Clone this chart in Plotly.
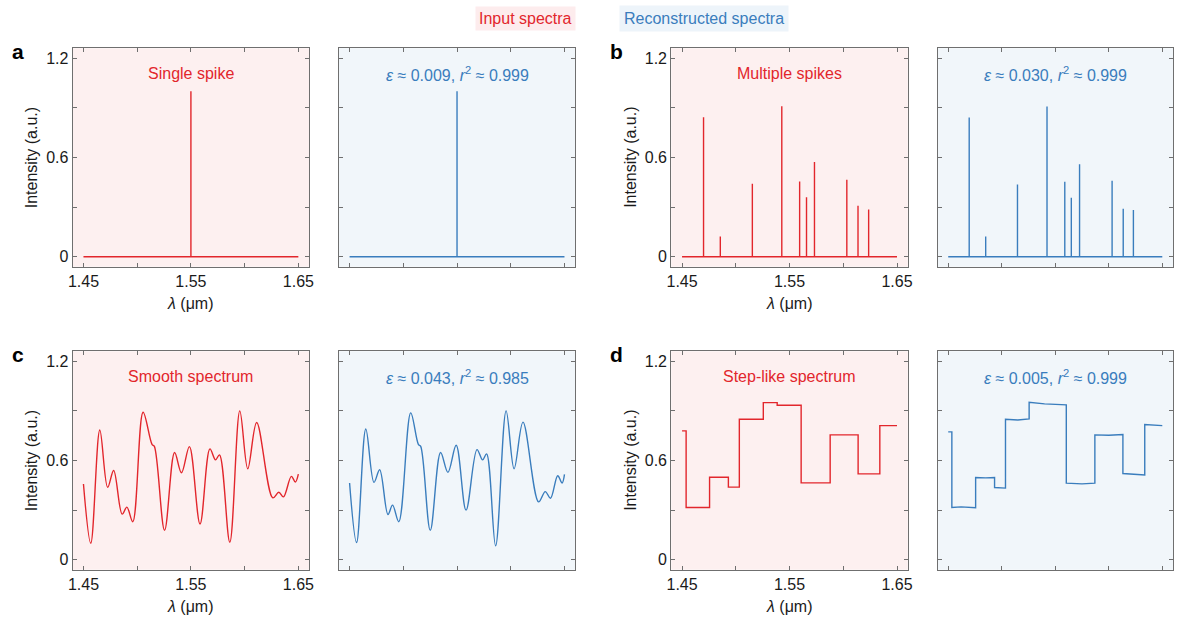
import plotly.graph_objects as go

# ---------------------------------------------------------------- styling
FONT = "Liberation Sans, Arial, sans-serif"
RED = "#e2262c"
BLUE = "#3a7dbd"
BG_RED = "#fdf0f0"
BG_BLUE = "#f1f6fa"
BOX_RED = "#fdeced"
BOX_BLUE = "#edf4fa"
FRAME = "#6f6f6f"
INK = "#1a1a1a"

W, H = 1178, 617

X_RANGE = [1.44, 1.66]
Y_RANGE = [-0.06, 1.26]

x_tickvals = [1.45, 1.55, 1.65]
x_ticktext = ["1.45", "1.55", "1.65"]
x_minorvals = [1.50, 1.60]
y_tickvals = [0, 0.6, 1.2]
y_ticktext = ["0", "0.6", "1.2"]
y_minorvals = [0.3, 0.9]

# ---------------------------------------------------------------- data
# (a) single spike
single_pos_in = [1.55]
single_h_in = [1.0]
single_pos_out = [1.55]
single_h_out = [1.0]

# (b) multiple spikes
multi_pos_in = [1.4700, 1.4856, 1.5154, 1.5428, 1.5594, 1.5658, 1.5732, 1.6033, 1.6137, 1.6236]
multi_h_in = [0.844, 0.122, 0.441, 0.910, 0.455, 0.359, 0.573, 0.465, 0.309, 0.285]
multi_pos_out = [1.4696, 1.4850, 1.5147, 1.5423, 1.5589, 1.5650, 1.5727, 1.6031, 1.6135, 1.6230]
multi_h_out = [0.842, 0.122, 0.437, 0.908, 0.453, 0.357, 0.559, 0.459, 0.291, 0.283]

# (c) smooth spectrum
smooth_x_in = [1.4500, 1.4568, 1.4652, 1.4725, 1.4781, 1.4860, 1.4904, 1.4959, 1.5055,
               1.5138, 1.5160, 1.5255, 1.5348, 1.5412, 1.5486, 1.5585, 1.5677, 1.5729,
               1.5766, 1.5862, 1.5955, 1.6029, 1.6112, 1.6262, 1.6318, 1.6361, 1.6435,
               1.6472, 1.6500]
smooth_y_in = [0.458, 0.100, 0.784, 0.438, 0.540, 0.276, 0.318, 0.230, 0.892,
               0.698, 0.685, 0.178, 0.648, 0.526, 0.684, 0.216, 0.670, 0.604,
               0.634, 0.106, 0.900, 0.550, 0.830, 0.374, 0.408, 0.380, 0.504,
               0.470, 0.518]
smooth_x_out = [1.4500, 1.4565, 1.4651, 1.4727, 1.4780, 1.4857, 1.4900, 1.4958, 1.5069,
                1.5140, 1.5162, 1.5251, 1.5347, 1.5415, 1.5492, 1.5584, 1.5686, 1.5738,
                1.5775, 1.5859, 1.5957, 1.6031, 1.6114, 1.6259, 1.6321, 1.6370, 1.6437,
                1.6478, 1.6500]
smooth_y_out = [0.464, 0.104, 0.790, 0.468, 0.544, 0.274, 0.330, 0.230, 0.888,
                0.698, 0.685, 0.178, 0.648, 0.528, 0.692, 0.300, 0.666, 0.604,
                0.640, 0.084, 0.900, 0.550, 0.832, 0.350, 0.412, 0.372, 0.508,
                0.464, 0.516]

# (d) step-like spectrum
step_edges_in = [1.4500, 1.4538, 1.4756, 1.4931, 1.5033, 1.5256, 1.5385, 1.5608,
                 1.5878, 1.6138, 1.6340, 1.6500]
step_levels_in = [0.779, 0.316, 0.499, 0.439, 0.849, 0.950, 0.934, 0.465, 0.755, 0.519, 0.811]
step_x_out = [1.4500, 1.4534, 1.4534, 1.4620, 1.4756, 1.4756, 1.4850, 1.4933, 1.4933,
              1.5035, 1.5035, 1.5150, 1.5256, 1.5256, 1.5400, 1.5603, 1.5603, 1.5750,
              1.5870, 1.5870, 1.6000, 1.6132, 1.6132, 1.6250, 1.6336, 1.6336, 1.6500]
step_y_out = [0.773, 0.773, 0.316, 0.320, 0.314, 0.497, 0.495, 0.497, 0.437,
              0.433, 0.849, 0.845, 0.851, 0.952, 0.942, 0.936, 0.463, 0.459,
              0.463, 0.755, 0.753, 0.757, 0.521, 0.517, 0.512, 0.817, 0.811]

titles_in = ["Single spike", "Multiple spikes", "Smooth spectrum", "Step-like spectrum"]
metrics = [("0.009", "0.999"), ("0.030", "0.999"), ("0.043", "0.985"), ("0.005", "0.999")]
panel_letters = ["a", "b", "c", "d"]

# ---------------------------------------------------------------- layout geometry (px)
col_px = [(68.3, 306.7), (336.7, 575.1), (672.0, 910.5), (940.5, 1178.0)]
row_px = [(48.3, 266.7), (351.3, 569.7)]


def xdom(c):
    a, b = col_px[c]
    return [a / W, min(b / W, 1.0)]


def ydom(r):
    t, b = row_px[r]
    return [1 - b / H, 1 - t / H]


def spike_path(pos, heights, start=1.45, end=1.65):
    xs, ys = [start], [0.0]
    for p, h in zip(pos, heights):
        xs += [p, p, p]
        ys += [0.0, h, 0.0]
    xs.append(end)
    ys.append(0.0)
    return xs, ys


def step_path(edges, levels):
    return list(edges), list(levels) + [levels[-1]]


# panels: (row, col, x, y, colour, shape)
panels = []
sx, sy = spike_path(single_pos_in, single_h_in)
panels.append((0, 0, sx, sy, RED, "linear"))
sx, sy = spike_path(single_pos_out, single_h_out)
panels.append((0, 1, sx, sy, BLUE, "linear"))
sx, sy = spike_path(multi_pos_in, multi_h_in)
panels.append((0, 2, sx, sy, RED, "linear"))
sx, sy = spike_path(multi_pos_out, multi_h_out)
panels.append((0, 3, sx, sy, BLUE, "linear"))
panels.append((1, 0, smooth_x_in, smooth_y_in, RED, "spline"))
panels.append((1, 1, smooth_x_out, smooth_y_out, BLUE, "spline"))
sx, sy = step_path(step_edges_in, step_levels_in)
panels.append((1, 2, sx, sy, RED, "hv"))
panels.append((1, 3, step_x_out, step_y_out, BLUE, "linear"))

fig = go.Figure()
layout = dict(
    width=W, height=H,
    margin=dict(l=0, r=0, t=0, b=0),
    paper_bgcolor="white",
    plot_bgcolor="rgba(0,0,0,0)",
    showlegend=False,
    font=dict(family=FONT, size=16, color=INK),
)
shapes = []
annotations = []

for i, (r, c, xs, ys, colour, shape) in enumerate(panels):
    n = i + 1
    suf = "" if n == 1 else str(n)
    is_input = (c % 2 == 0)
    fig.add_trace(go.Scatter(
        x=xs, y=ys, mode="lines",
        line=dict(color=colour, width=1.4, shape=shape,
                  smoothing=1.0 if shape == "spline" else None),
        xaxis="x" + suf, yaxis="y" + suf, hoverinfo="skip",
    ))
    common = dict(
        showline=True, linecolor=FRAME, linewidth=1.2, mirror="ticks",
        ticks="inside", ticklen=4, tickwidth=1, tickcolor=FRAME,
        showgrid=False, zeroline=False, fixedrange=True,
        tickfont=dict(family=FONT, size=16, color=INK),
        tickmode="array",
    )
    minor = dict(ticks="inside", ticklen=4, tickwidth=1, tickcolor=FRAME, showgrid=False)
    layout["xaxis" + suf] = dict(
        common, domain=xdom(c), range=X_RANGE, anchor="y" + suf,
        tickvals=x_tickvals, ticktext=x_ticktext, showticklabels=is_input,
        minor=dict(minor, tickvals=x_minorvals),
    )
    layout["yaxis" + suf] = dict(
        common, domain=ydom(r), range=Y_RANGE, anchor="x" + suf,
        tickvals=y_tickvals, ticktext=y_ticktext, showticklabels=is_input,
        minor=dict(minor, tickvals=y_minorvals),
    )
    shapes.append(dict(
        type="rect", xref=f"x{suf} domain", yref=f"y{suf} domain",
        x0=0, x1=1, y0=0, y1=1, layer="below", line=dict(width=0),
        fillcolor=BG_RED if is_input else BG_BLUE,
    ))

    k = r * 2 + c // 2  # spectrum index 0..3
    if is_input:
        text = titles_in[k]
    else:
        eps, r2 = metrics[k]
        text = f"<i>ε</i> ≈ {eps}, <i>r</i><sup>2</sup> ≈ {r2}"
    annotations.append(dict(
        xref=f"x{suf} domain", yref="y" + suf, x=0.5, y=1.105,
        text=text, showarrow=False, xanchor="center", yanchor="middle",
        font=dict(family=FONT, size=16, color=colour),
    ))

    if is_input:
        x0, x1 = col_px[c]
        t, b = row_px[r]
        # y axis title
        annotations.append(dict(
            xref="paper", yref="paper", x=(x0 - 41.3) / W, y=1 - (t + b) / 2 / H,
            text="Intensity (a.u.)", textangle=-90, showarrow=False,
            xanchor="center", yanchor="middle",
            font=dict(family=FONT, size=16, color=INK),
        ))
        # x axis title
        annotations.append(dict(
            xref="paper", yref="paper", x=(x0 + x1) / 2 / W, y=1 - (b + 36.8) / H,
            text="<i>λ</i> (μm)", showarrow=False,
            xanchor="center", yanchor="middle",
            font=dict(family=FONT, size=16, color=INK),
        ))
        # panel letter
        annotations.append(dict(
            xref="paper", yref="paper", x=(x0 - 54.8) / W, y=1 - (t + 3.5) / H,
            text=f"<b>{panel_letters[k]}</b>", showarrow=False,
            xanchor="center", yanchor="middle",
            font=dict(family=FONT, size=21, color="black"),
        ))

# key labels at the top
annotations.append(dict(
    xref="paper", yref="paper", x=525 / W, y=1 - 18.3 / H,
    text="Input spectra", showarrow=False, xanchor="center", yanchor="middle",
    bgcolor=BOX_RED, borderpad=3,
    font=dict(family=FONT, size=16, color=RED),
))
annotations.append(dict(
    xref="paper", yref="paper", x=704.5 / W, y=1 - 18.3 / H,
    text="Reconstructed spectra", showarrow=False, xanchor="center", yanchor="middle",
    bgcolor=BOX_BLUE, borderpad=4,
    font=dict(family=FONT, size=16, color=BLUE),
))

layout["shapes"] = shapes
layout["annotations"] = annotations
fig.update_layout(**layout)
fig.write_html("out.html")
